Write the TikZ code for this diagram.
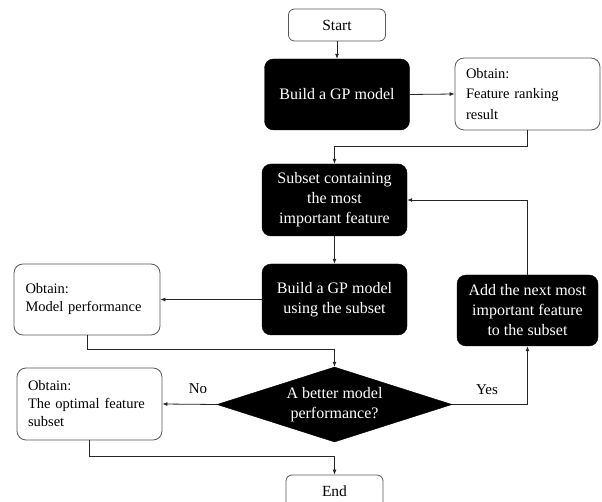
\documentclass[tikz,border=0pt]{standalone}
\usepackage{fontspec}
\setmainfont{Liberation Serif}
\usetikzlibrary{shapes.geometric,arrows.meta,calc}
\begin{document}
\begin{tikzpicture}[x=1pt,y=-1pt,
  conn/.style={draw=black!85, line width=0.8pt, -{Latex[length=5pt,width=4pt]}},
  blackbox/.style={rectangle, rounded corners=9pt, fill=black, draw=black, text=white, align=center, inner sep=0pt, minimum width=145pt, minimum height=71pt, font=\fontsize{16}{20}\selectfont},
  whitebox/.style={rectangle, rounded corners=9pt, draw=black!65, line width=0.8pt, fill=white, align=left, text width=123pt, inner sep=0pt, minimum width=145pt, minimum height=71pt, font=\fontsize{14.5}{18}\selectfont},
  termbox/.style={rectangle, rounded corners=6pt, draw=black!65, line width=0.8pt, fill=white, minimum width=97pt, minimum height=32pt, inner sep=0pt, font=\fontsize{15.5}{18}\selectfont},
  decision/.style={diamond, aspect=3.13, fill=black, draw=black, text=white, align=center, inner sep=0pt, minimum width=235pt, minimum height=75pt, font=\fontsize{16}{20}\selectfont},
  lbl/.style={font=\fontsize{15}{18}\selectfont, inner sep=0pt}]
\useasboundingbox (0,0) rectangle (602,502);
\fill[white] (0,0) rectangle (602,502);

\node[termbox] (Start) at (337,25) {Start};
\node[blackbox] (Build1) at (337,94.5) {Build a GP model};
\node[whitebox, minimum height=72pt, font=\fontsize{14.5}{20.5}\selectfont] (Rank) at (527.5,94) {Obtain:\\Feature ranking\\result};
\node[blackbox, minimum height=72pt] (Subset) at (334.5,200) {Subset containing\\the most\\important feature};
\node[blackbox] (BuildSub) at (334.5,299.5) {Build a GP model\\using the subset};
\node[whitebox, minimum width=146pt] (Perf) at (87,299.5) {Obtain:\\Model performance};
\node[blackbox, minimum width=141pt] (Add) at (527.5,310.5) {Add the next most\\important feature\\to the subset};
\node[decision] (Dia) at (334.5,404.5) {A better model\\performance?};
\node[whitebox, minimum height=72pt] (Opt) at (89.5,404) {Obtain:\\The optimal feature\\subset};
\node[termbox, minimum height=33pt] (End) at (334.5,491.5) {End};

\node[lbl] (NoLbl) at (198,389) {No};
\node[lbl] (YesLbl) at (487,390) {Yes};

\draw[conn] (Start.south) -- (Build1.north);
\draw[conn] (Build1.east) -- (Rank.west);
\draw[conn] (Rank.south) |- ($(Subset.north)+(0,-17)$) -- (Subset.north);
\draw[conn] (Subset.south) -- (BuildSub.north);
\draw[conn] (BuildSub.west) -- (Perf.east);
\draw[conn] (Perf.south) |- ($(Dia.north)+(0,-17)$) -- (Dia.north);
\draw[conn] (Dia.east) -| (Add.south);
\draw[conn] (Add.north) |- (Subset.east);
\draw[conn] (Dia.west) -- (Opt.east);
\draw[conn] (Opt.south) |- ($(End.north)+(0,-18)$) -- (End.north);
\end{tikzpicture}
\end{document}
